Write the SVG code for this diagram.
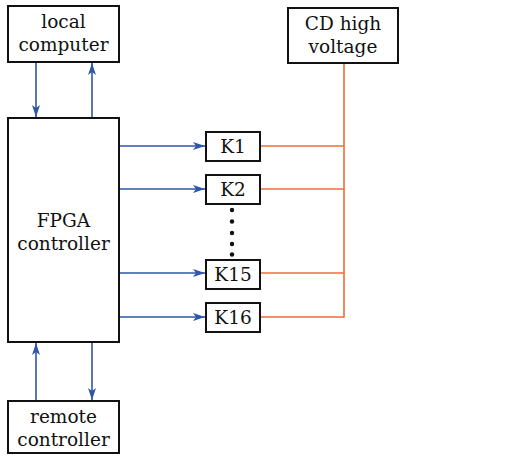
<svg xmlns="http://www.w3.org/2000/svg" width="506" height="457" viewBox="0 0 506 457">
  <defs>
    <marker id="arr" viewBox="0 0 12 8" refX="12" refY="4" markerWidth="12" markerHeight="8" markerUnits="userSpaceOnUse" orient="auto">
      <path d="M0,0 L12,4 L0,8 L3,4 Z" fill="#2f56a8"/>
    </marker>
    <style>
      .box { fill: #ffffff; stroke: #111111; stroke-width: 2; }
      .lbl { font-family: "DejaVu Serif", "Liberation Serif", serif; font-size: 18.5px; fill: #111111; text-anchor: middle; }
      .ctl { stroke: #2f56a8; stroke-width: 1.6; fill: none; marker-end: url(#arr); }
      .pwr { stroke: #f26b3a; stroke-width: 1.6; fill: none; }
    </style>
  </defs>
  <rect width="506" height="457" fill="#ffffff"/>

  <g id="connectors">
    <line class="ctl" x1="36" y1="62" x2="36" y2="117"/>
    <line class="ctl" x1="92" y1="118" x2="92" y2="63"/>
    <line class="ctl" x1="36" y1="401" x2="36" y2="343"/>
    <line class="ctl" x1="92" y1="342" x2="92" y2="400"/>
    <line class="ctl" x1="119" y1="146" x2="205" y2="146"/>
    <line class="ctl" x1="119" y1="189" x2="205" y2="189"/>
    <line class="ctl" x1="119" y1="273" x2="205" y2="273"/>
    <line class="ctl" x1="119" y1="317" x2="205" y2="317"/>
    <polyline class="pwr" points="344,63 344,317 260,317"/>
    <line class="pwr" x1="260" y1="146" x2="344" y2="146"/>
    <line class="pwr" x1="260" y1="189" x2="344" y2="189"/>
    <line class="pwr" x1="260" y1="273" x2="344" y2="273"/>
  </g>

  <g id="local-computer">
    <rect class="box" x="8" y="6" width="111" height="56"/>
    <text class="lbl" x="63.5" y="28">local</text>
    <text class="lbl" x="63.5" y="51">computer</text>
  </g>

  <g id="fpga-controller">
    <rect class="box" x="8" y="118" width="111" height="224"/>
    <text class="lbl" x="63.5" y="227">FPGA</text>
    <text class="lbl" x="63.5" y="250">controller</text>
  </g>

  <g id="remote-controller">
    <rect class="box" x="8" y="401" width="111" height="52"/>
    <text class="lbl" x="63.5" y="423">remote</text>
    <text class="lbl" x="63.5" y="446">controller</text>
  </g>

  <g id="cd-high-voltage">
    <rect class="box" x="288" y="8" width="110" height="55"/>
    <text class="lbl" x="343" y="30">CD high</text>
    <text class="lbl" x="343" y="53">voltage</text>
  </g>

  <g id="k1">
    <rect class="box" x="206" y="132" width="54" height="29"/>
    <text class="lbl" x="233" y="153">K1</text>
  </g>
  <g id="k2">
    <rect class="box" x="206" y="175" width="54" height="29"/>
    <text class="lbl" x="233" y="196">K2</text>
  </g>
  <g id="k15">
    <rect class="box" x="206" y="260" width="54" height="29"/>
    <text class="lbl" x="233" y="281">K15</text>
  </g>
  <g id="k16">
    <rect class="box" x="206" y="303" width="54" height="29"/>
    <text class="lbl" x="233" y="324">K16</text>
  </g>

  <g id="ellipsis" fill="#111111">
    <circle cx="232" cy="210" r="2.2"/>
    <circle cx="232" cy="221.5" r="2.2"/>
    <circle cx="232" cy="233" r="2.2"/>
    <circle cx="232" cy="244" r="2.2"/>
    <circle cx="232" cy="254.5" r="2.2"/>
  </g>
</svg>
